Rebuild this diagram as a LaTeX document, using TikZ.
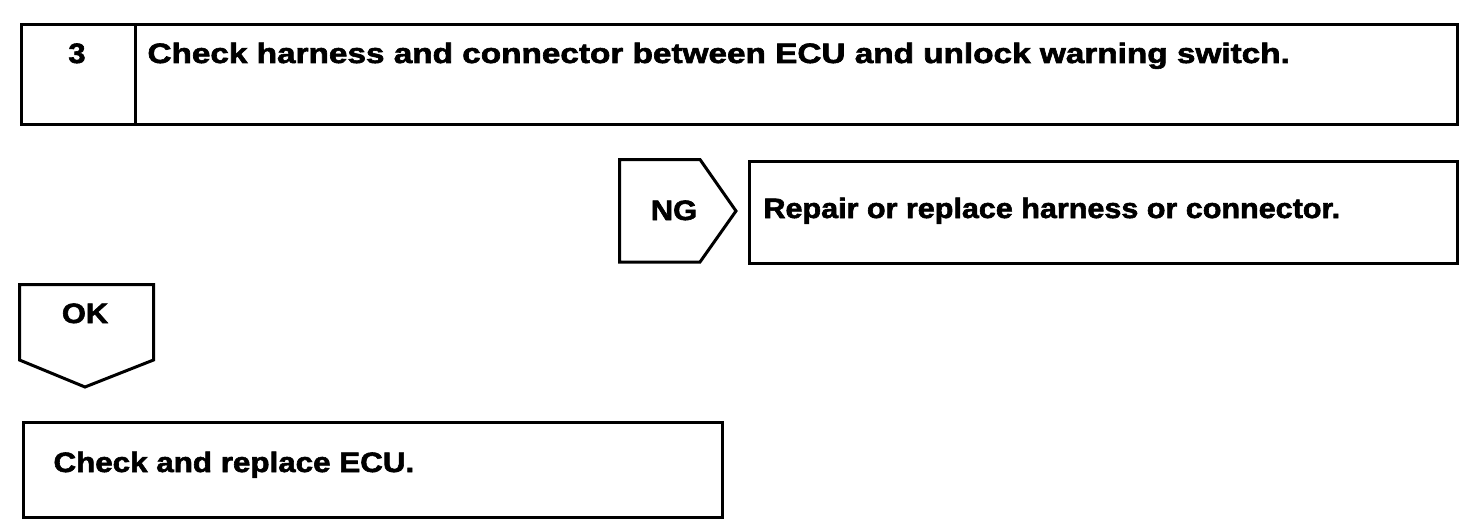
\documentclass[tikz,border=0pt]{standalone}
\usepackage{fontspec}
\setmainfont{Liberation Sans}
\newfontfamily\heavy{Liberation Sans Bold}[FakeBold=2]
\usetikzlibrary{positioning}
\newcommand{\widen}[2]{\scalebox{#1}[1]{#2}}

\begin{document}
\begin{tikzpicture}[
        x=1pt, y=-1pt,
        line width=3pt,
        txt/.style={font=\fontsize{28}{34}\selectfont\heavy, inner sep=0pt},
        block/.style={draw, inner sep=0pt, anchor=north west}
    ]
    \useasboundingbox (0,0) rectangle (1472,532);

    % step 3
    \node[block, minimum width=114pt, minimum height=100pt] (num) at (19.5,23.5) {};
    \node[block, minimum width=1436pt, minimum height=100pt] (step) at (19.5,23.5) {};
    \node[txt, anchor=base] (numtxt) at (77,63) {\widen{1.1}{3}};
    \node[txt, anchor=base west] (steptxt) at (146,63) {\widen{1.19}{Check harness and connector between ECU and unlock warning switch.}};

    % NG branch
    \draw (619.5,159.5) -- (700,159.5) -- (736,211) -- (700,262) -- (619.5,262) -- cycle;
    \node[txt, anchor=base] (ng) at (674,220) {\widen{1.1}{NG}};
    \node[block, minimum width=708pt, minimum height=102pt] (repair) at (747.5,159.5) {};
    \node[txt, anchor=base west] (repairtxt) at (762,218) {\widen{1.09}{Repair or replace harness or connector.}};

    % OK branch
    \draw (19.5,284.5) -- (153.5,284.5) -- (153.5,360) -- (85,387) -- (19.5,360) -- cycle;
    \node[txt, anchor=base] (ok) at (85,323) {\widen{1.1}{OK}};
    \node[block, minimum width=699pt, minimum height=95pt] (ecu) at (21.5,420.5) {};
    \node[txt, anchor=base west] (ecutxt) at (52,472) {\widen{1.12}{Check and replace ECU.}};
\end{tikzpicture}
\end{document}
